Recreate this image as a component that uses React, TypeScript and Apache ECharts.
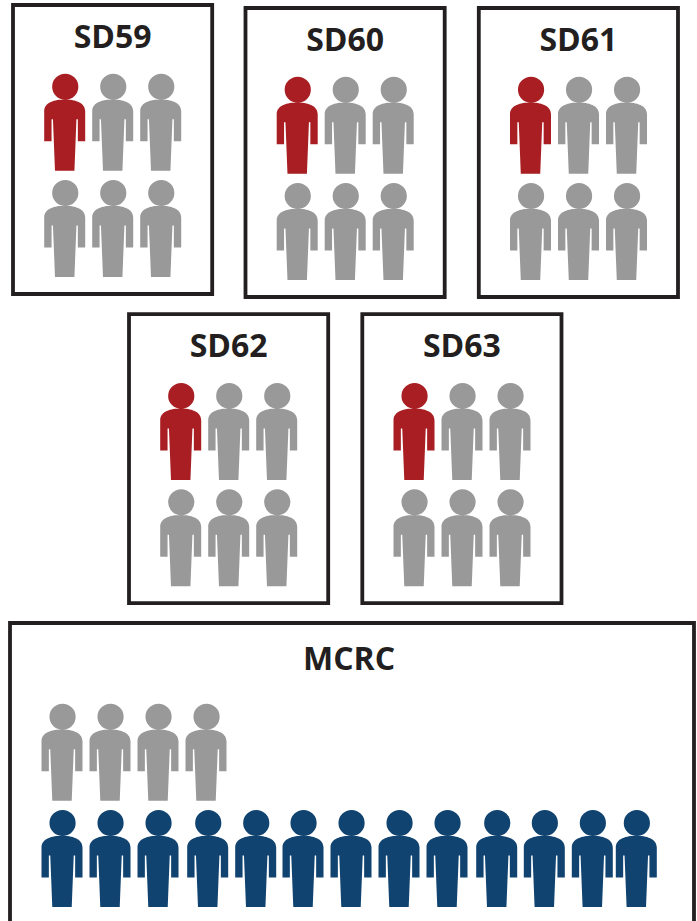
import React, { useEffect, useRef } from "react";
import * as echarts from "echarts";

// ---- data: how many people of each kind in each panel ----
const panelNames = ["SD59", "SD60", "SD61", "SD62", "SD63"];
const redCounts = [1, 1, 1, 1, 1];
const grayCounts = [5, 5, 5, 5, 5];
const mcrcName = "MCRC";
const mcrcGrayCount = 4;
const mcrcBlueCount = 13;

// ---- styles / layout ----
const RED = "#a81e22";
const GRAY = "#999999";
const BLUE = "#114370";
const INK = "#231f20";
const COLS = 3;
const STEP_X = 48;
const STEP_Y = 106.3;
const ICON_W = 41;
const ICON_H = 97;
const PERSON =
  "path://M20.9 0A13 13 0 1 1 20.9 26A13 13 0 1 1 20.9 0Z" +
  "M20.35 25.7C30 25.7 40.7 28.5 40.7 37.5L40.7 67.5L33.4 67.5L33.4 45.5L32 45.5L30 97L10.7 97L8.7 45.5L7.3 45.5L7.3 67.5L0 67.5L0 37.5C0 28.5 10.7 25.7 20.35 25.7Z";

const BOX_W = 199.2;
const BOX_H = 289;
const panelBoxes = [
  { left: 13, top: 5, width: BOX_W, height: BOX_H },
  { left: 245.5, top: 8, width: BOX_W, height: BOX_H },
  { left: 478.8, top: 8, width: BOX_W, height: BOX_H },
  { left: 129, top: 314.2, width: BOX_W, height: BOX_H },
  { left: 362.3, top: 314.2, width: BOX_W, height: BOX_H },
];
const mcrcBox = { left: 10, top: 623, width: 684, height: 320 };
// pixel centre of the first icon relative to its panel frame
const FIRST_X = 51.7;
const FIRST_Y = 117.2;
const MCRC_FIRST_X = 52;
const MCRC_FIRST_Y = 129.2;
// small hand-placement drift of the blue row in the original artwork
const blueDrift = [0, 0, 0, 1.7, 1.7, 1, 1, 1, 1, 2.7, 2.3, 2.3, -1.7];

function gridAxes(box: any, firstX: number, firstY: number, index: number) {
  return {
    x: {
      type: "value",
      gridIndex: index,
      show: false,
      min: -firstX / STEP_X,
      max: (box.width - firstX) / STEP_X,
    },
    y: {
      type: "value",
      gridIndex: index,
      show: false,
      inverse: true,
      min: -firstY / STEP_Y,
      max: (box.height - firstY) / STEP_Y,
    },
  };
}

function personSeries(index: number, data: any[]) {
  return {
    type: "scatter",
    xAxisIndex: index,
    yAxisIndex: index,
    symbol: PERSON,
    symbolSize: [ICON_W, ICON_H],
    symbolKeepAspect: false,
    silent: true,
    clip: false,
    data,
  };
}

function buildOption() {
  const grid: any[] = [];
  const xAxis: any[] = [];
  const yAxis: any[] = [];
  const series: any[] = [];
  const title: any[] = [];
  const frame = { show: true, borderColor: INK, borderWidth: 3.8, backgroundColor: "transparent" };
  const titleStyle = { fontFamily: "Open Sans", fontWeight: 700, fontSize: 32, color: INK };

  panelNames.forEach((name, i) => {
    const box = panelBoxes[i];
    grid.push({ ...box, ...frame });
    const a = gridAxes(box, FIRST_X, FIRST_Y, i);
    xAxis.push(a.x);
    yAxis.push(a.y);
    const total = redCounts[i] + grayCounts[i];
    const pts: any[] = [];
    for (let k = 0; k < total; k++) {
      pts.push({
        value: [k % COLS, Math.floor(k / COLS)],
        itemStyle: { color: k < redCounts[i] ? RED : GRAY, opacity: 1 },
      });
    }
    series.push(personSeries(i, pts));
    title.push({
      text: name,
      left: box.left + box.width / 2,
      top: box.top + 14.5,
      textAlign: "center",
      padding: 0,
      textStyle: titleStyle,
    });
  });

  const m = panelNames.length;
  grid.push({ ...mcrcBox, ...frame });
  const a = gridAxes(mcrcBox, MCRC_FIRST_X, MCRC_FIRST_Y, m);
  xAxis.push(a.x);
  yAxis.push(a.y);
  const pts: any[] = [];
  for (let k = 0; k < mcrcGrayCount; k++) {
    pts.push({ value: [k, 0], itemStyle: { color: GRAY, opacity: 1 } });
  }
  for (let k = 0; k < mcrcBlueCount; k++) {
    pts.push({
      value: [k, 1],
      symbolOffset: [blueDrift[k], 0],
      itemStyle: { color: BLUE, opacity: 1 },
    });
  }
  series.push(personSeries(m, pts));
  title.push({
    text: mcrcName,
    left: mcrcBox.left + 339,
    top: mcrcBox.top + 18,
    textAlign: "center",
    padding: 0,
    textStyle: titleStyle,
  });

  return { animation: false, backgroundColor: "#ffffff", title, grid, xAxis, yAxis, series };
}

export default function App() {
  const ref = useRef<HTMLDivElement>(null);
  useEffect(() => {
    const chart = echarts.init(ref.current!, undefined, { renderer: "svg" });
    chart.setOption(buildOption() as any);
    return () => chart.dispose();
  }, []);
  // the MCRC frame runs off the bottom of the picture, so the chart is taller than the visible box
  return (
    <div style={{ position: "absolute", left: 0, top: 0, width: 697, height: 921, overflow: "hidden" }}>
      <div ref={ref} style={{ width: 697, height: 960 }} />
    </div>
  );
}
